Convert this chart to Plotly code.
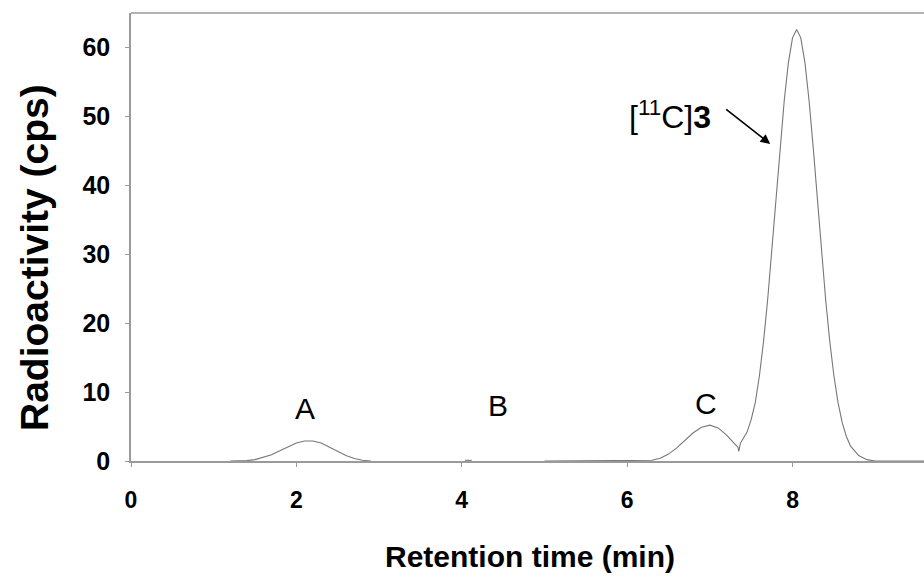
import plotly.graph_objects as go

# Retention time (min) and radioactivity (cps)
time_min = [1.2, 1.4, 1.5, 1.6, 1.7, 1.8, 1.9, 2.0, 2.1, 2.2, 2.3, 2.4, 2.5, 2.6, 2.7, 2.8, 2.9,
            None,
            4.04, 4.12,
            None,
            5.0, 5.5, 6.0, 6.2, 6.3, 6.4, 6.5, 6.6, 6.7, 6.8, 6.9, 7.0, 7.1, 7.2, 7.3, 7.34,
            7.35, 7.37, 7.4, 7.45, 7.5, 7.55, 7.6, 7.65, 7.7, 7.75, 7.8, 7.85, 7.9, 7.95,
            8.0, 8.05, 8.1, 8.15, 8.2, 8.25, 8.3, 8.35, 8.4, 8.45, 8.5, 8.55, 8.6, 8.65,
            8.7, 8.8, 8.9, 9.0, 9.6]
activity_cps = [0.0, 0.05, 0.2, 0.5, 0.9, 1.5, 2.1, 2.6, 2.9, 2.9, 2.6, 2.0, 1.4, 0.8, 0.35, 0.1, 0.0,
                None,
                0.1, 0.1,
                None,
                0.0, 0.0, 0.0, 0.0, 0.1, 0.4, 1.0, 1.9, 3.0, 4.1, 4.9, 5.2, 4.8, 3.8, 2.5, 2.0,
                1.4, 2.6, 3.2, 4.2, 6.0, 8.5, 12.4, 17.4, 23.5, 30.5, 38.0, 45.5, 52.3, 57.8,
                61.4, 62.6, 61.4, 57.8, 52.3, 45.5, 38.0, 30.5, 23.5, 17.4, 12.4, 8.5, 5.6, 3.6,
                2.2, 0.8, 0.2, 0.0, 0.0]

peak_labels = ["A", "B", "C"]
peak_label_x = [2.1, 4.44, 6.95]
peak_label_y = [7.65, 8.0, 8.3]

x_ticks = [0, 2, 4, 6, 8]
y_ticks = [0, 10, 20, 30, 40, 50, 60]

FONT = "Liberation Sans, Arial, sans-serif"
AXIS_GRAY = "#9a9a9a"

fig = go.Figure()
fig.add_trace(go.Scatter(
    x=time_min, y=activity_cps, mode="lines",
    line=dict(color="#777777", width=1.1),
    connectgaps=False, showlegend=False, hoverinfo="x+y",
))

for t, xx, yy in zip(peak_labels, peak_label_x, peak_label_y):
    fig.add_annotation(x=xx, y=yy, xref="x", yref="y", text=t, showarrow=False,
                       xanchor="center", yanchor="middle",
                       font=dict(family=FONT, size=30, color="black"))

fig.add_annotation(x=7.73, y=46.0, ax=7.18, ay=51.2, xref="x", yref="y",
                   axref="x", ayref="y", text="", showarrow=True,
                   arrowhead=2, arrowsize=1.2, arrowwidth=1.6, arrowcolor="black")
fig.add_annotation(x=6.52, y=50.2, xref="x", yref="y",
                   text="[<sup>11</sup>C]<b>3</b>", showarrow=False,
                   xanchor="center", yanchor="middle",
                   font=dict(family=FONT, size=32, color="black"))

fig.add_annotation(x=(34 - 131) / 793, y=(461 - 258) / 448, xref="paper", yref="paper",
                   text="<b>Radioactivity (cps)</b>", textangle=-90, showarrow=False,
                   xanchor="center", yanchor="middle",
                   font=dict(family=FONT, size=39, color="black"))
fig.add_annotation(x=(530 - 131) / 793, y=(461 - 556) / 448, xref="paper", yref="paper",
                   text="<b>Retention time (min)</b>", showarrow=False,
                   xanchor="center", yanchor="middle",
                   font=dict(family=FONT, size=30, color="black"))

fig.add_shape(type="line", xref="paper", yref="paper", x0=0, x1=1, y0=1, y1=1,
              line=dict(color=AXIS_GRAY, width=1.5))

fig.update_layout(
    width=924, height=578,
    margin=dict(l=131, r=0, t=13, b=117),
    paper_bgcolor="white", plot_bgcolor="white",
    showlegend=False,
    xaxis=dict(range=[0, 9.59], tickvals=x_ticks, showgrid=False, zeroline=False,
               showline=True, linecolor=AXIS_GRAY, linewidth=1.5,
               ticks="outside", ticklen=4, tickcolor=AXIS_GRAY,
               ticklabelstandoff=14,
               tickfont=dict(family=FONT, size=23, color="black", weight="bold")),
    yaxis=dict(range=[0, 65], tickvals=y_ticks, showgrid=False, zeroline=False,
               showline=True, linecolor=AXIS_GRAY, linewidth=1.5,
               ticks="outside", ticklen=4, tickcolor=AXIS_GRAY,
               ticklabelstandoff=10,
               tickfont=dict(family=FONT, size=25, color="black", weight="bold")),
)

fig.write_html("out.html", config={"displayModeBar": False},
               post_script="document.body.style.margin='0';document.body.style.overflow='hidden';")
